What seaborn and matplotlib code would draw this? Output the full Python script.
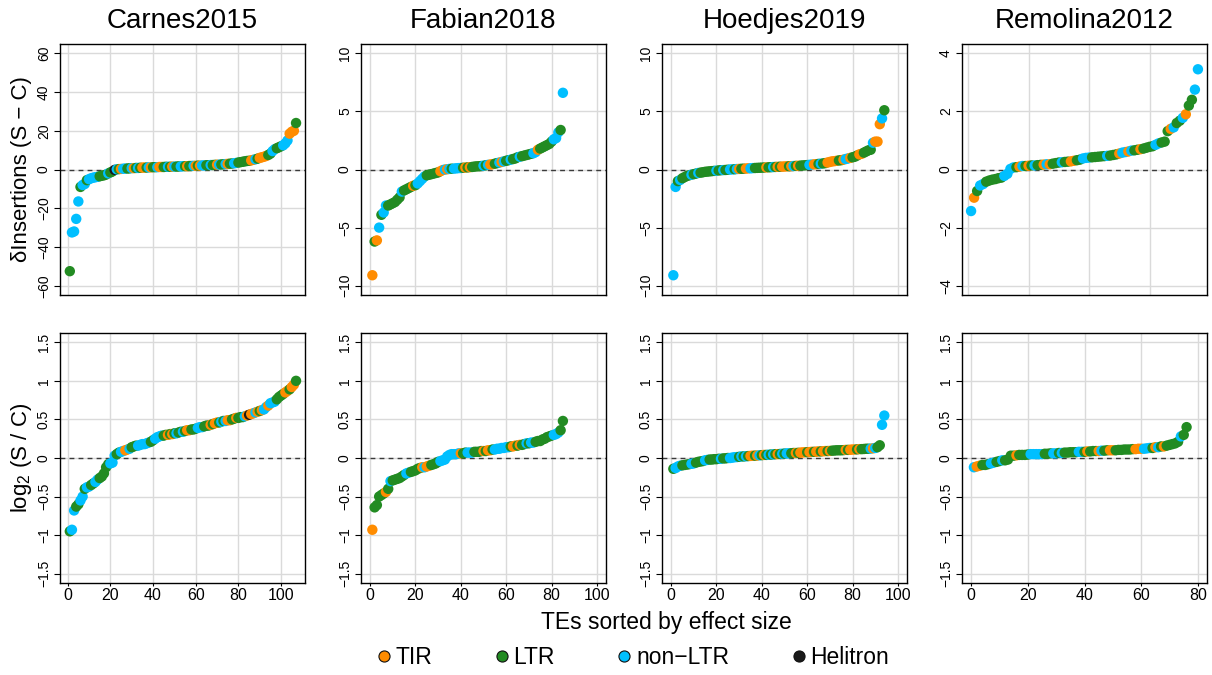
import seaborn as sns
import matplotlib.pyplot as plt
import pandas as pd
from matplotlib.lines import Line2D

# TE class codes: T = TIR, L = LTR, N = non-LTR, H = Helitron
te_names = {'T': 'TIR', 'L': 'LTR', 'N': 'non\u2212LTR', 'H': 'Helitron'}
te_order = ['TIR', 'LTR', 'non\u2212LTR', 'Helitron']
te_colors = ['#FF8C00', '#228B22', '#00BFFF', '#1A1A1A']

studies = ['Carnes2015', 'Fabian2018', 'Hoedjes2019', 'Remolina2012']

#! delta insertions (S - C), sorted
carnes_delta = [-52.5, -32.5, -32.0, -25.5, -16.5, -9.0, -8.0, -7.5, -5.5, -5.0,
                -4.5, -4.2, -4.0, -3.8, -3.5, -3.2, -3.0, -2.6, -2.0, -1.5,
                -1.0, -0.2, 0.1, 0.2, 0.3, 0.4, 0.5, 0.5, 0.6, 0.7,
                0.7, 0.8, 0.8, 0.9, 1.0, 1.0, 1.0, 1.1, 1.1, 1.2,
                1.2, 1.2, 1.3, 1.3, 1.3, 1.4, 1.4, 1.4, 1.5, 1.5,
                1.5, 1.6, 1.6, 1.7, 1.7, 1.7, 1.8, 1.8, 1.9, 1.9,
                2.0, 2.0, 2.1, 2.1, 2.2, 2.2, 2.3, 2.3, 2.4, 2.5,
                2.5, 2.6, 2.7, 2.8, 2.9, 3.0, 3.1, 3.2, 3.4, 3.6,
                3.8, 4.0, 4.2, 4.4, 4.5, 4.7, 5.0, 5.3, 5.6, 6.0,
                6.3, 6.6, 7.0, 7.5, 8.2, 9.5, 10.5, 11.0, 11.5, 12.0,
                12.5, 13.5, 15.0, 18.5, 19.5, 20.0, 24.0]
carnes_delta_te = ("LNNNNLNNLN" "NNNNLLLLNL" "LHNLTNNLLN" "TLNLTTLNTL" "LNTTLLNLTN"
                   "LLNNLTLLNT" "LTNNLLNLLT" "NLLNTLLNNL" "LLLLLTTNLT" "TTTLLNNLLL" "NNNTTTL")

fabian_delta = [-9.1, -6.2, -6.1, -5.0, -3.9, -3.7, -3.1, -3.1, -3.0, -2.9,
                -2.8, -2.6, -2.4, -1.9, -1.8, -1.7, -1.6, -1.5, -1.4, -1.35,
                -1.2, -1.0, -0.8, -0.6, -0.5, -0.45, -0.4, -0.35, -0.3, -0.25,
                -0.15, -0.05, 0.0, 0.02, 0.05, 0.07, 0.08, 0.1, 0.12, 0.13,
                0.15, 0.17, 0.18, 0.2, 0.22, 0.25, 0.27, 0.28, 0.3, 0.33,
                0.36, 0.4, 0.43, 0.46, 0.5, 0.55, 0.6, 0.65, 0.7, 0.75,
                0.8, 0.85, 0.9, 0.95, 1.05, 1.1, 1.15, 1.2, 1.25, 1.3,
                1.35, 1.4, 1.5, 1.7, 1.8, 1.9, 2.0, 2.1, 2.2, 2.4,
                2.6, 2.7, 3.2, 3.4, 6.6]
fabian_delta_te = ("TLTNLNNLLL" "LLLNLLLLTL" "NNNNLLLLLL" "TTNTNLNNNN" "LTLTLLLLLN"
                   "LNTTLLNTNL" "LNLLLNLLLL" "LNNTLLLLLL" "NNNLN")

hoedjes_delta = [-9.1, -1.5, -1.0, -0.9, -0.75, -0.65, -0.55, -0.5, -0.45, -0.4,
                 -0.35, -0.3, -0.27, -0.24, -0.2, -0.18, -0.16, -0.14, -0.12, -0.1,
                 -0.08, -0.06, -0.05, -0.04, -0.02, 0.0, 0.01, 0.02, 0.04, 0.05,
                 0.06, 0.07, 0.08, 0.1, 0.1, 0.12, 0.13, 0.14, 0.15, 0.16,
                 0.17, 0.18, 0.19, 0.2, 0.21, 0.22, 0.23, 0.24, 0.25, 0.26,
                 0.27, 0.28, 0.29, 0.3, 0.31, 0.32, 0.33, 0.35, 0.36, 0.38,
                 0.4, 0.42, 0.44, 0.46, 0.48, 0.5, 0.52, 0.55, 0.6, 0.65,
                 0.7, 0.72, 0.75, 0.78, 0.8, 0.85, 0.9, 0.95, 1.0, 1.05,
                 1.1, 1.2, 1.3, 1.35, 1.45, 1.55, 1.65, 1.7, 2.3, 2.4,
                 2.4, 3.9, 4.4, 5.1]
hoedjes_delta_te = ("NNLNLLLLNL" "LNLLLLLLLN" "LLNLLNNLNT" "LLTTNNLLLL" "LTLLNLTLTT"
                    "TLTNLTLLLL" "NNTTLNLLTT" "TTTLLTNNTL" "LLTTLLLLNT" "TTNL")

remolina_delta = [-1.43, -0.97, -0.74, -0.55, -0.5, -0.42, -0.38, -0.35, -0.33, -0.3,
                  -0.28, -0.22, -0.15, 0.02, 0.07, 0.08, 0.1, 0.12, 0.12, 0.13,
                  0.14, 0.14, 0.15, 0.16, 0.17, 0.18, 0.18, 0.2, 0.22, 0.24,
                  0.25, 0.26, 0.27, 0.28, 0.3, 0.32, 0.34, 0.38, 0.4, 0.41,
                  0.42, 0.43, 0.44, 0.45, 0.46, 0.47, 0.48, 0.5, 0.52, 0.55,
                  0.58, 0.6, 0.62, 0.65, 0.66, 0.68, 0.7, 0.72, 0.75, 0.78,
                  0.8, 0.85, 0.9, 0.93, 0.96, 1.32, 1.4, 1.45, 1.6, 1.68,
                  1.78, 1.9, 2.2, 2.4, 2.75, 3.45]
remolina_delta_te = ("NTLNNLLLLL" "LNNNNLTNLT" "LNLLTNTLLL" "NLLTTLLNNN" "LLLLLNLLLT"
                     "NNTNLLTLLL" "LNNLLLTNLL" "NTLLNN")

#! log2 (S / C), sorted
carnes_log = [-0.95, -0.93, -0.68, -0.63, -0.60, -0.55, -0.50, -0.40, -0.38, -0.37,
              -0.35, -0.33, -0.31, -0.28, -0.26, -0.24, -0.20, -0.12, -0.08, -0.07,
              -0.06, 0.03, 0.05, 0.07, 0.08, 0.09, 0.10, 0.11, 0.12, 0.14,
              0.15, 0.16, 0.16, 0.17, 0.18, 0.18, 0.19, 0.20, 0.21, 0.23,
              0.25, 0.27, 0.28, 0.29, 0.29, 0.30, 0.30, 0.31, 0.31, 0.32,
              0.32, 0.33, 0.34, 0.34, 0.35, 0.36, 0.36, 0.37, 0.37, 0.38,
              0.39, 0.40, 0.40, 0.41, 0.42, 0.42, 0.43, 0.44, 0.45, 0.46,
              0.46, 0.47, 0.48, 0.48, 0.49, 0.49, 0.50, 0.51, 0.52, 0.52,
              0.53, 0.53, 0.54, 0.55, 0.56, 0.57, 0.58, 0.59, 0.60, 0.61,
              0.62, 0.63, 0.66, 0.68, 0.71, 0.72, 0.73, 0.76, 0.79, 0.81,
              0.83, 0.85, 0.87, 0.89, 0.92, 0.95, 1.00]
carnes_log_te = ("LNNLLNNLNN" "LLNNLLLLLN" "NNLLNNTTNL" "LLNNNNNNLL" "NNNNLLTLTL"
                 "NLLNLTTLLL" "NNNLLLTLTT" "LNLNTTLLTL" "LLNTHTTNTL" "TNNTNNNLLL" "LTTLTTL")

fabian_log = [-0.93, -0.64, -0.61, -0.50, -0.48, -0.46, -0.44, -0.40, -0.30, -0.29,
              -0.28, -0.27, -0.26, -0.24, -0.22, -0.20, -0.19, -0.18, -0.17, -0.16,
              -0.14, -0.13, -0.12, -0.12, -0.11, -0.10, -0.09, -0.08, -0.07, -0.05,
              -0.04, -0.03, -0.02, 0.02, 0.04, 0.05, 0.05, 0.05, 0.06, 0.06,
              0.06, 0.07, 0.07, 0.07, 0.07, 0.08, 0.08, 0.08, 0.09, 0.09,
              0.09, 0.10, 0.10, 0.11, 0.11, 0.12, 0.12, 0.13, 0.13, 0.14,
              0.14, 0.15, 0.15, 0.16, 0.16, 0.17, 0.17, 0.18, 0.19, 0.19,
              0.20, 0.20, 0.21, 0.22, 0.22, 0.24, 0.25, 0.27, 0.28, 0.29,
              0.30, 0.31, 0.33, 0.36, 0.48]
fabian_log_te = ("TLLLLLTLNL" "LLLLLNNLLL" "LLTNTTLLLL" "NNNNNNNNNT" "LLNNNLLLLT"
                 "LTTLNNNNNN" "NLTTLTLLNL" "NNLLLLLLLL" "NNNLL")

hoedjes_log = [-0.14, -0.13, -0.11, -0.10, -0.095, -0.09, -0.085, -0.08, -0.075, -0.07,
               -0.06, -0.05, -0.045, -0.04, -0.03, -0.025, -0.02, -0.02, -0.015, -0.015,
               -0.01, -0.01, -0.005, -0.005, 0.0, 0.0, 0.005, 0.01, 0.012, 0.015,
               0.02, 0.02, 0.022, 0.025, 0.027, 0.03, 0.03, 0.032, 0.035, 0.037,
               0.04, 0.04, 0.042, 0.045, 0.047, 0.05, 0.05, 0.052, 0.055, 0.057,
               0.06, 0.06, 0.062, 0.065, 0.065, 0.067, 0.07, 0.072, 0.075, 0.075,
               0.077, 0.08, 0.08, 0.082, 0.085, 0.085, 0.087, 0.09, 0.09, 0.092,
               0.095, 0.097, 0.1, 0.1, 0.1, 0.102, 0.105, 0.105, 0.107, 0.11,
               0.11, 0.112, 0.115, 0.115, 0.117, 0.12, 0.12, 0.122, 0.125, 0.13,
               0.14, 0.165, 0.43, 0.55]
hoedjes_log_te = ("LNNNLLLLNN" "LLLLNNLLLL" "LNLLLNNNNL" "NLNLTTLTNL" "TLNLNLTLNL"
                  "NNLLTLTTTL" "TTLTTLTTLT" "LLLLLLTLTT" "TLTLLLLNTN" "LLNN")

remolina_log = [-0.12, -0.11, -0.10, -0.09, -0.09, -0.08, -0.07, -0.06, -0.05, -0.04,
                -0.03, -0.03, -0.02, 0.03, 0.03, 0.035, 0.04, 0.04, 0.04, 0.045,
                0.05, 0.05, 0.05, 0.05, 0.05, 0.055, 0.055, 0.06, 0.06, 0.06,
                0.065, 0.065, 0.07, 0.07, 0.075, 0.075, 0.075, 0.08, 0.08, 0.08,
                0.085, 0.085, 0.09, 0.09, 0.09, 0.095, 0.095, 0.1, 0.1, 0.1,
                0.1, 0.105, 0.105, 0.11, 0.11, 0.11, 0.115, 0.115, 0.12, 0.12,
                0.12, 0.125, 0.13, 0.13, 0.14, 0.14, 0.15, 0.15, 0.16, 0.17,
                0.18, 0.19, 0.21, 0.28, 0.30, 0.40]
remolina_log_te = ("NTTLLLNNLL" "NLLLLTLLLL" "NNNNNLLLNN" "LNLLLLLNNL" "TLLLTNLLTT"
                   "LLLLLLLTTT" "NNNLTNLTLL" "LLLNLL")

delta_panels = [(carnes_delta, carnes_delta_te), (fabian_delta, fabian_delta_te),
                (hoedjes_delta, hoedjes_delta_te), (remolina_delta, remolina_delta_te)]
log_panels = [(carnes_log, carnes_log_te), (fabian_log, fabian_log_te),
              (hoedjes_log, hoedjes_log_te), (remolina_log, remolina_log_te)]

delta_lim = [64.8, 10.8, 10.8, 4.32]
delta_ticks = [[-60, -40, -20, 0, 20, 40, 60], [-10, -5, 0, 5, 10],
               [-10, -5, 0, 5, 10], [-4, -2, 0, 2, 4]]
log_ticks = [-1.5, -1, -0.5, 0, 0.5, 1, 1.5]
top_xlim = [(-3.6, 111.2), (-4, 104), (-4, 104), (-2, 79)]
bot_xlim = [(-3.6, 111.2), (-4, 104), (-4, 104), (-3.2, 83.2)]
top_xticks = [range(0, 101, 20)] * 3 + [range(0, 61, 20)]
bot_xticks = [range(0, 101, 20)] * 3 + [range(0, 81, 20)]

sns.set_theme(style="ticks")
plt.rcParams['font.family'] = ['Liberation Sans', 'DejaVu Sans']
plt.rcParams['mathtext.fontset'] = 'custom'
plt.rcParams['mathtext.rm'] = 'Liberation Sans'
plt.rcParams['mathtext.it'] = 'Liberation Sans'
plt.rcParams['text.color'] = 'black'
plt.rcParams['xtick.color'] = 'black'
plt.rcParams['ytick.color'] = 'black'
plt.rcParams['xtick.labelcolor'] = 'black'
plt.rcParams['ytick.labelcolor'] = 'black'

W, H = 1212, 675
fig = plt.figure(figsize=(W / 100, H / 100), dpi=100)
lefts = [60, 361, 662, 962]
palette = dict(zip(te_order, te_colors))


def fmt(v):
    s = ('%g' % v)
    return s.replace('-', '\u2212')


def draw(ax, vals, codes, xlim, xticks, yticks, ylim, show_x):
    df = pd.DataFrame({'rank': range(1, len(vals) + 1), 'value': vals,
                       'te': [te_names[c] for c in codes]})
    ax.grid(True, color='#dadada', lw=1)
    ax.set_axisbelow(True)
    ax.axhline(0, color='#3a3a3a', lw=1, ls=(0, (3.5, 3)), zorder=2)
    sns.scatterplot(data=df, x='rank', y='value', hue='te', hue_order=te_order,
                    palette=palette, s=56, linewidth=0, legend=False, ax=ax, zorder=3)
    ax.set_xlim(*xlim)
    ax.set_ylim(-ylim, ylim)
    ax.set_xticks(list(xticks))
    ax.set_yticks(yticks)
    ax.set_yticklabels([fmt(v) for v in yticks], fontsize=10, rotation=90, va='center')
    ax.set_xlabel('')
    ax.set_ylabel('')
    for sp in ax.spines.values():
        sp.set_visible(True)
        sp.set_color('black')
        sp.set_linewidth(1)
    ax.tick_params(axis='y', length=4, width=0.8, pad=2.5, colors='black')
    if show_x:
        ax.set_xticklabels([str(t) for t in xticks], fontsize=11.5)
        ax.tick_params(axis='x', length=2.5, width=0.8, pad=1, colors='black')
    else:
        ax.tick_params(axis='x', length=0, labelbottom=False)


for i in range(4):
    ax_top = fig.add_axes([lefts[i] / W, (H - 295) / H, 245 / W, 251 / H])
    vals, codes = delta_panels[i]
    draw(ax_top, vals, codes, top_xlim[i], top_xticks[i], delta_ticks[i], delta_lim[i], False)
    fig.text((lefts[i] + 122.5) / W, 1 - 21 / H, studies[i], fontsize=20,
             ha='center', va='center')

    ax_bot = fig.add_axes([lefts[i] / W, (H - 583) / H, 245 / W, 250 / H])
    vals, codes = log_panels[i]
    draw(ax_bot, vals, codes, bot_xlim[i], bot_xticks[i], log_ticks, 1.62, True)

fig.text(22 / W, 1 - 169.5 / H, '\u03b4Insertions (S \u2212 C)', fontsize=16,
         rotation=90, ha='center', va='center')
fig.text(22 / W, 1 - 458 / H, 'log$_2$ (S / C)', fontsize=16,
         rotation=90, ha='center', va='center')
fig.text(666 / W, 1 - 622 / H, 'TEs sorted by effect size', fontsize=16.5,
         ha='center', va='center')

handles = [Line2D([], [], ls='none', marker='o', markersize=8, markerfacecolor=c,
                  markeredgecolor='#111111', markeredgewidth=0.8) for c in te_colors]
fig.legend(handles, te_order, loc='center', bbox_to_anchor=(633.5 / W, 17 / H),
           ncol=4, frameon=False, fontsize=16.5, handlelength=0.5,
           handletextpad=0.25, columnspacing=2.8, borderpad=0)

fig.savefig('out.png', dpi=100)
